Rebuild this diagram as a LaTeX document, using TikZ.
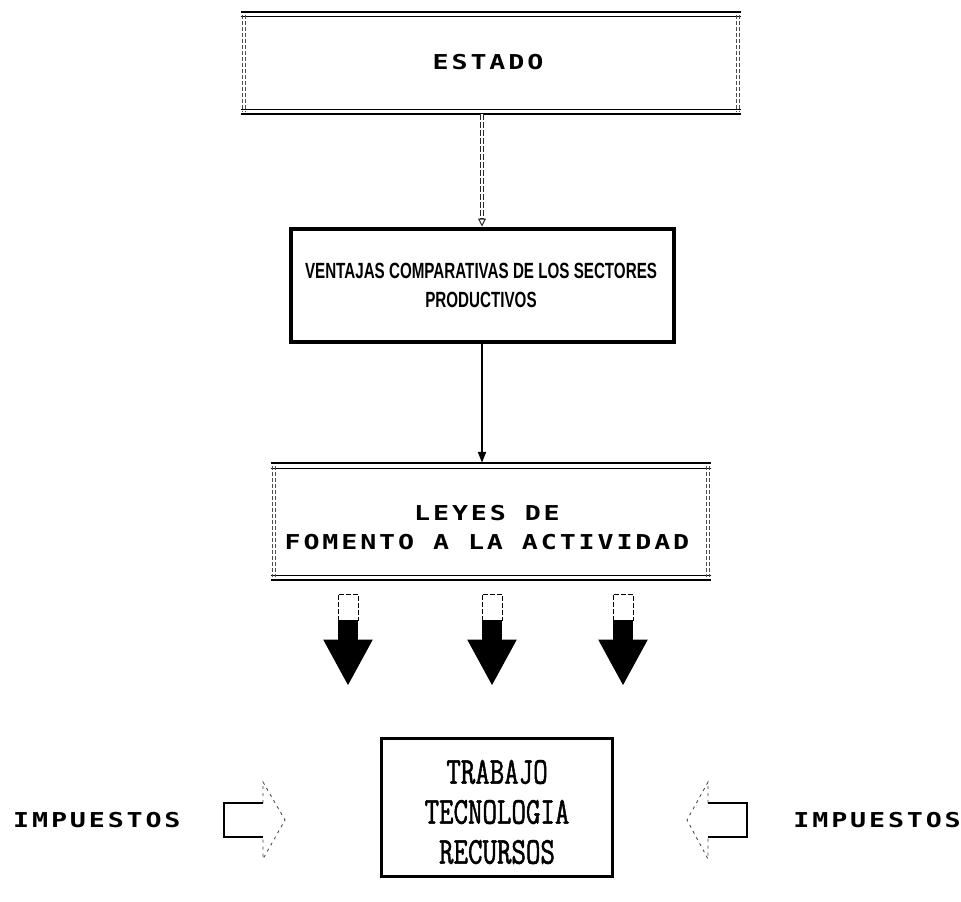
\documentclass[tikz,border=0pt]{standalone}
\usepackage{fontspec}
\usetikzlibrary{arrows.meta,calc}
\newfontfamily\dotfont{DejaVu Sans Mono}[FakeStretch=1.3,LetterSpace=14]
\newfontfamily\plotfont{Liberation Sans}[FakeStretch=0.69]
\newfontfamily\typefont{Latin Modern Mono}[FakeStretch=0.74,FakeBold=1.3]
\tikzset{
  dottext/.style={font=\dotfont\bfseries\fontsize{20.5}{29}\selectfont, align=center, inner sep=0pt},
  plottext/.style={font=\plotfont\bfseries\fontsize{22}{29}\selectfont, align=center, inner sep=0pt},
  typetext/.style={font=\typefont\fontsize{38}{40}\selectfont, align=center, inner sep=0pt},
  panel/.style={inner sep=0pt},
  rule/.style={line width=2.2pt},
  thinrule/.style={line width=1.3pt},
  sideline/.style={line width=0.8pt, dashed, dash pattern=on 4pt off 2pt, black!70},
  thickbox/.style={draw, line width=4pt},
  stembox/.style={draw, line width=0.9pt, dashed, dash pattern=on 5pt off 2pt},
  blockhead/.style={fill=black, draw=black, line width=1pt},
  hollowbody/.style={line width=1.4pt},
  hollowtip/.style={line width=0.8pt, dash pattern=on 3pt off 4pt, black!75},
}
\begin{document}
\begin{tikzpicture}[x=1pt,y=-1pt]
\useasboundingbox (0,0) rectangle (961,902);

% ---- top panel: ESTADO ----
\node[panel, minimum width=500pt, minimum height=102pt] (estado) at (491,63) {};
\node[dottext] (estadotxt) at (488,62) {ESTADO};
\draw[rule] (estado.north west) -- (estado.north east);
\draw[thinrule] ($(estado.north west)+(0,5)$) -- ($(estado.north east)+(0,5)$);
\draw[thinrule] ($(estado.south west)+(0,-5)$) -- ($(estado.south east)+(0,-5)$);
\draw[rule] (estado.south west) -- (estado.south east);
\foreach \s/\d in {west/1.5,west/4.5,east/-1.5,east/-4.5}{
  \draw[sideline] ($(estado.north \s)+(\d,3)$) -- ($(estado.south \s)+(\d,-3)$);
}

% ---- comparative advantages box ----
\node[panel, thickbox, minimum width=383pt, minimum height=113pt] (ventajas) at (482,285) {};
\node[plottext] (ventajastxt) at (481,285) {VENTAJAS COMPARATIVAS DE LOS SECTORES\\PRODUCTIVOS};

% ---- laws panel ----
\node[panel, minimum width=440pt, minimum height=117pt] (leyes) at (491,521.5) {};
\node[dottext] (leyestxt) at (487,528) {LEYES DE\\FOMENTO A LA ACTIVIDAD};
\draw[rule] (leyes.north west) -- (leyes.north east);
\draw[thinrule] ($(leyes.north west)+(0,6)$) -- ($(leyes.north east)+(0,6)$);
\draw[thinrule] ($(leyes.south west)+(0,-5)$) -- ($(leyes.south east)+(0,-5)$);
\draw[rule] (leyes.south west) -- (leyes.south east);
\foreach \s/\d in {west/1.5,west/4.5,east/-1.5,east/-4.5}{
  \draw[sideline] ($(leyes.north \s)+(\d,3)$) -- ($(leyes.south \s)+(\d,-3)$);
}

% ---- resources box ----
\node[panel, draw, line width=3pt, minimum width=231pt, minimum height=138pt] (recursos) at (496.5,807) {};
\node[typetext] (recursostxt) at (497,812) {TRABAJO\\TECNOLOGIA\\RECURSOS};

% ---- tax labels ----
\node[dottext, anchor=west] (impizq) at (13,820) {IMPUESTOS};
\node[dottext, anchor=east] (impder) at (961,820) {IMPUESTOS};

% ---- connectors ----
\draw[line width=4.5pt, black!85, dash pattern=on 6pt off 2pt,
      -{Triangle[open,length=8pt,width=8pt,line width=1pt]}]
  (ventajas.north |- estado.south) -- (ventajas.north);
\draw[line width=1.3pt, white, dash pattern=on 6pt off 2pt, shorten >=10pt]
  (ventajas.north |- estado.south) -- (ventajas.north);
\draw[line width=2pt, -{Triangle[length=11pt,width=8pt]}]
  (ventajas.south) -- (ventajas.south |- leyes.north);

% ---- block arrows below the laws panel ----
\foreach \cx in {348,492,623}{
  \draw[stembox] (\cx-10,621) -- (\cx-10,594) -- (\cx+10,594) -- (\cx+10,621);
  \fill (\cx-10,620) rectangle (\cx+10,641);
  \filldraw[blockhead] (\cx-24,640) -- (\cx+24,640) -- (\cx,684) -- cycle;
}

% ---- hollow arrows pointing at the resources box ----
\draw[hollowbody] (263,803) -- (224,803) -- (224,837) -- (263,837);
\draw[hollowtip] (263,803) -- (263,782) -- (285,820) -- (263,859) -- (263,837);
\draw[hollowbody] (708,803) -- (747,803) -- (747,837) -- (708,837);
\draw[hollowtip] (708,803) -- (708,782) -- (687,820) -- (708,859) -- (708,837);
\end{tikzpicture}
\end{document}
